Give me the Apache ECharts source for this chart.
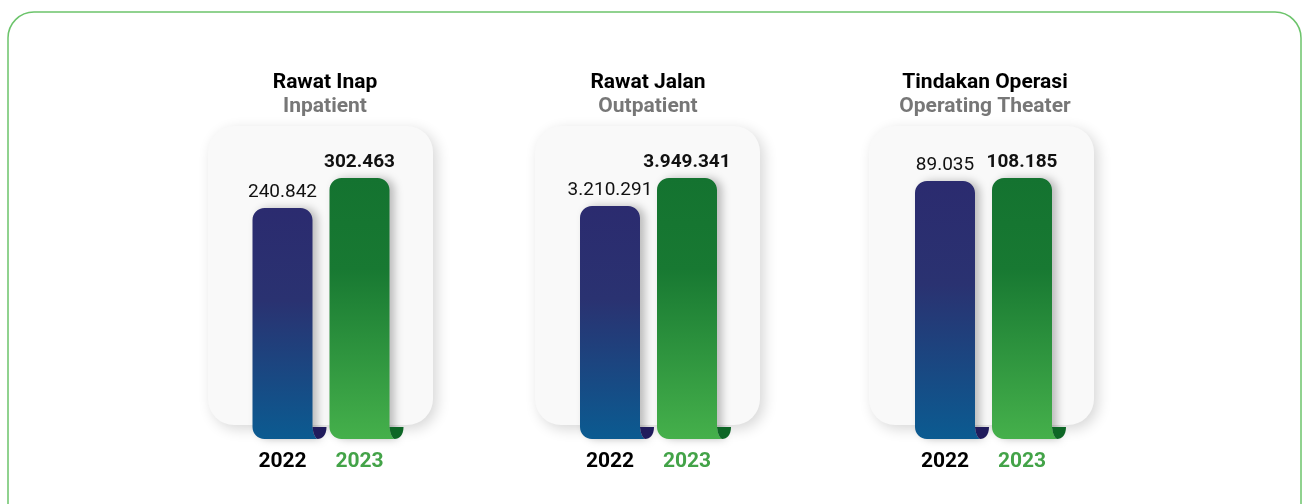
<!DOCTYPE html>
<html>
<head>
<meta charset="utf-8">
<title>Rawat Inap, Rawat Jalan, Tindakan Operasi 2022-2023</title>
<script src="https://cdn.jsdelivr.net/npm/echarts@6/dist/echarts.min.js"></script>
<style>
  html, body { margin: 0; padding: 0; background: #ffffff; }
  #chart { width: 1304px; height: 504px; }
</style>
</head>
<body>
<div id="chart"></div>
<script>
// Service volumes per year
const panelTitles = ['Rawat Inap', 'Rawat Jalan', 'Tindakan Operasi'];
const panelSubtitles = ['Inpatient', 'Outpatient', 'Operating Theater'];
const years = ['2022', '2023'];
const values2022 = [240842, 3210291, 89035];
const values2023 = [302463, 3949341, 108185];
// Lower end of each panel's value axis
const axisFloor = [-233000, -2940000, -1560000];

// Layout
const panelBoxes = [
  { x: 208, y: 126, w: 225, h: 299 },
  { x: 535, y: 126, w: 225, h: 299 },
  { x: 869, y: 126, w: 225, h: 299 }
];
const barCenters = [321, 648.5, 983.5];
const titleCenters = [325, 648, 985];
const BAND = 77;
const BAR_W = 60;
const PLOT_TOP = 178;
const PLOT_BOTTOM = 439;
const FONT = 'Roboto, "Noto Sans", sans-serif';

const blueGrad = [
  { offset: 0, color: '#2b2b6f' },
  { offset: 0.4, color: '#2a3271' },
  { offset: 1, color: '#0b5b91' }
];
const greenGrad = [
  { offset: 0, color: '#147330' },
  { offset: 0.35, color: '#187932' },
  { offset: 1, color: '#45b04b' }
];
const curlColors = ['#201b5c', '#0d6626'];
const yearColors = ['#000000', '#43a348'];

function formatId(n) {
  return String(n).replace(/\B(?=(\d{3})+(?!\d))/g, '.');
}

function bodyPath(x0, x1, yt, yb) {
  const r = 12, k = 0.45;
  return [
    'M', x0, yt + r,
    'C', x0, yt + r * k, x0 + r * k, yt, x0 + r, yt,
    'L', x1 - r, yt,
    'C', x1 - r * k, yt, x1, yt + r * k, x1, yt + r,
    'L', x1, yb - 12,
    'Q', x1 + 1, yb - 2, x1 + 5, yb,
    'L', x0 + r, yb,
    'C', x0 + r * k, yb, x0, yb - r * k, x0, yb - r,
    'Z'
  ].join(' ');
}

function curlPath(x1, yb) {
  return [
    'M', x1, yb - 12,
    'L', x1 + 14, yb - 12,
    'C', x1 + 14, yb - 4, x1 + 10, yb, x1 + 5, yb,
    'Q', x1 + 1, yb - 2, x1, yb - 12,
    'Z'
  ].join(' ');
}

function makeRenderItem(panelIdx) {
  return function (params, api) {
    const cat = api.value(0);
    const val = api.value(1);
    const top = api.coord([cat, val]);
    const cs = params.coordSys;
    const yb = cs.y + cs.height;
    const cx = top[0];
    const x0 = cx - BAR_W / 2;
    const x1 = cx + BAR_W / 2;
    const yt = top[1];
    const grad = new echarts.graphic.LinearGradient(0, 0, 0, 1, cat === 0 ? blueGrad : greenGrad);
    return {
      type: 'group',
      children: [
        {
          type: 'path',
          shape: { pathData: bodyPath(x0, x1, yt, yb) },
          style: {
            fill: grad,
            shadowBlur: 9,
            shadowOffsetX: 5,
            shadowOffsetY: 0,
            shadowColor: 'rgba(0,0,0,0.25)'
          }
        },
        {
          type: 'path',
          shape: { pathData: curlPath(x1, yb) },
          style: { fill: curlColors[cat] }
        },
        {
          type: 'text',
          style: {
            text: formatId(val),
            x: cx,
            y: yt - 6,
            align: 'center',
            verticalAlign: 'bottom',
            fill: '#111111',
            font: (cat === 1 ? 'bold ' : '') + '19px ' + FONT
          }
        }
      ]
    };
  };
}

const grids = [], xAxes = [], yAxes = [], series = [], titles = [];
const graphics = [
  {
    type: 'rect',
    z: -10,
    shape: { x: 8, y: 12, width: 1293, height: 540, r: 26 },
    style: { fill: '#ffffff', stroke: '#6cc46b', lineWidth: 1.5 }
  }
];

panelTitles.forEach(function (title, i) {
  const b = panelBoxes[i];
  graphics.push({
    type: 'rect',
    z: -5,
    shape: { x: b.x, y: b.y, width: b.w, height: b.h, r: 26 },
    style: {
      fill: '#f9f9f9',
      shadowBlur: 14,
      shadowOffsetX: 4,
      shadowOffsetY: 4,
      shadowColor: 'rgba(0,0,0,0.16)'
    }
  });

  titles.push({
    text: title,
    subtext: panelSubtitles[i],
    left: titleCenters[i],
    top: 72,
    textAlign: 'center',
    itemGap: 3,
    padding: 0,
    textStyle: { fontFamily: FONT, fontSize: 21, fontWeight: 'bold', color: '#000000' },
    subtextStyle: { fontFamily: FONT, fontSize: 21, fontWeight: 'bold', color: '#777777' }
  });

  grids.push({
    left: barCenters[i] - BAND,
    width: BAND * 2,
    top: PLOT_TOP,
    height: PLOT_BOTTOM - PLOT_TOP
  });

  xAxes.push({
    type: 'category',
    gridIndex: i,
    data: years,
    axisLine: { show: false },
    axisTick: { show: false },
    splitLine: { show: false },
    axisLabel: {
      margin: 12,
      fontFamily: FONT,
      fontSize: 21,
      fontWeight: 'bold',
      color: function (v, idx) { return yearColors[idx]; }
    }
  });

  yAxes.push({
    type: 'value',
    gridIndex: i,
    show: false,
    min: axisFloor[i],
    max: 'dataMax',
    splitLine: { show: false }
  });

  series.push({
    type: 'custom',
    xAxisIndex: i,
    yAxisIndex: i,
    renderItem: makeRenderItem(i),
    encode: { x: 0, y: 1 },
    data: [[0, values2022[i]], [1, values2023[i]]],
    z: 5
  });
});

const chart = echarts.init(document.getElementById('chart'), null, { renderer: 'canvas' });
chart.setOption({
  backgroundColor: '#ffffff',
  animation: false,
  title: titles,
  grid: grids,
  xAxis: xAxes,
  yAxis: yAxes,
  graphic: { elements: graphics },
  series: series
});
</script>
</body>
</html>
